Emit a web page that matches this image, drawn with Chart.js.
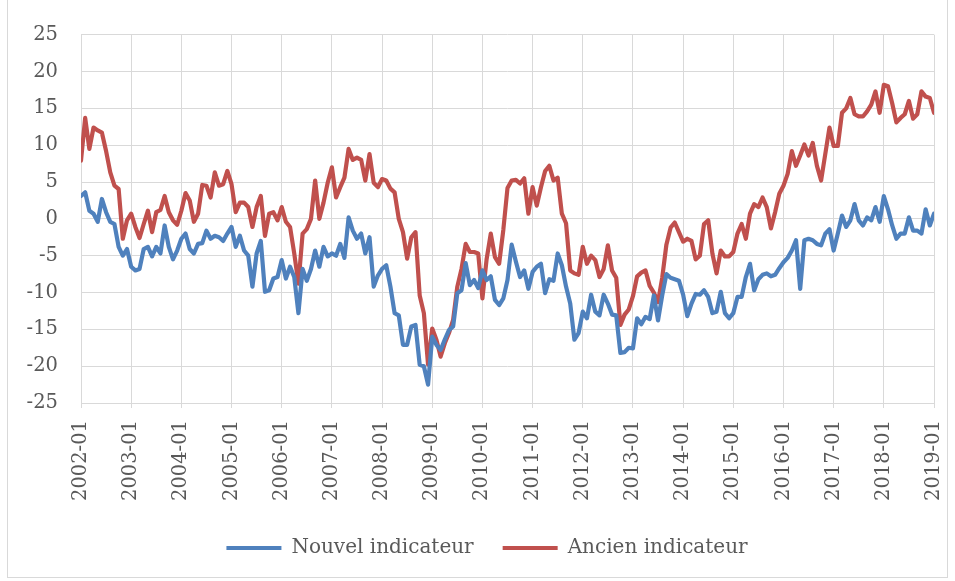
<!DOCTYPE html>
<html>
<head>
<meta charset="utf-8">
<script src="https://cdn.jsdelivr.net/npm/chart.js@4.4.1/dist/chart.umd.min.js"></script>
<style>
html,body{margin:0;padding:0;background:#fff;overflow:hidden;}
#wrap{position:relative;width:955px;height:581px;overflow:hidden;}
#frame{position:absolute;left:7px;top:-2px;width:941px;height:580px;border:1px solid #d9d9d9;box-sizing:border-box;pointer-events:none;}
canvas{position:absolute;left:0;top:0;}
</style>
</head>
<body>
<div id="wrap"><canvas id="c" width="955" height="581"></canvas><div id="frame"></div></div>
<script>
// Categories: monthly, 2002-01 .. 2019-01
const startYear = 2002, endYear = 2019;
const months = [];
for (let y = startYear; y <= endYear; y++) {
  for (let m = 1; m <= 12; m++) {
    if (y === endYear && m > 1) break;
    months.push(y + '-' + String(m).padStart(2, '0'));
  }
}

const seriesNames = ['Nouvel indicateur', 'Ancien indicateur'];

const nouvelIndicateur = [
  3.1, 3.6, 1.1, 0.7, -0.4, 2.7, 0.9, -0.4, -0.7, -3.8, -5.0, -4.1,
  -6.5, -7.0, -6.8, -4.1, -3.8, -5.1, -3.8, -4.7, -0.9, -3.8, -5.5, -4.3,
  -2.7, -2.0, -4.1, -4.7, -3.4, -3.3, -1.6, -2.7, -2.3, -2.5, -3.0, -2.0,
  -1.1, -3.8, -2.3, -4.3, -5.0, -9.2, -4.7, -3.0, -9.9, -9.7, -8.1, -7.9,
  -5.6, -8.1, -6.5, -7.9, -12.8, -6.8, -8.4, -6.8, -4.3, -6.5, -3.8, -5.1,
  -4.7, -5.0, -3.4, -5.3, 0.2, -1.6, -2.7, -2.0, -4.7, -2.5, -9.2, -7.7,
  -6.8, -6.3, -9.2, -12.8, -13.1, -17.1, -17.1, -14.6, -14.4, -19.8, -20.0, -22.5,
  -16.0, -17.1, -17.8, -16.4, -15.1, -14.6, -10.1, -9.7, -6.0, -9.0, -8.3, -9.4,
  -7.0, -8.3, -7.8, -11.0, -11.7, -10.8, -8.3, -3.5, -5.8, -7.9, -7.0, -9.5,
  -7.2, -6.5, -6.1, -10.1, -8.2, -8.4, -4.7, -6.3, -9.2, -11.5, -16.4, -15.5,
  -12.6, -13.5, -10.3, -12.6, -13.1, -10.3, -11.5, -13.0, -13.1, -18.2, -18.1, -17.5,
  -17.6, -13.5, -14.3, -13.3, -13.6, -10.4, -13.8, -10.4, -7.5, -8.0, -8.2, -8.4,
  -10.3, -13.2, -11.5, -10.2, -10.3, -9.7, -10.6, -12.8, -12.6, -9.9, -12.8, -13.5,
  -12.8, -10.6, -10.6, -7.9, -6.1, -9.7, -8.2, -7.6, -7.4, -7.8, -7.6, -6.7,
  -5.9, -5.3, -4.3, -2.9, -9.5, -2.9, -2.7, -2.9, -3.4, -3.6, -2.0, -1.4,
  -4.3, -2.0, 0.45, -1.1, -0.2, 2.0, -0.2, -0.9, 0.2, -0.2, 1.6, -0.4,
  3.1, 1.3, -0.9, -2.7, -2.0, -2.0, 0.2, -1.6, -1.6, -2.0, 1.3, -0.9,
  0.7
];

const ancienIndicateur = [
  7.9, 13.7, 9.5, 12.4, 12.0, 11.7, 9.2, 6.3, 4.5, 4.05, -2.7, -0.2,
  0.7, -1.1, -2.6, -0.7, 1.1, -1.8, 0.9, 1.2, 3.1, 0.9, -0.2, -0.8,
  1.1, 3.5, 2.5, -0.4, 0.7, 4.6, 4.5, 2.9, 6.3, 4.5, 4.7, 6.5,
  4.7, 0.9, 2.2, 2.2, 1.6, -1.1, 1.6, 3.1, -2.3, 0.7, 0.9, -0.2,
  1.6, -0.4, -1.1, -4.7, -8.8, -2.0, -1.4, 0.0, 5.2, 0.0, 2.2, 4.9,
  7.0, 2.9, 4.3, 5.6, 9.5, 8.0, 8.3, 8.0, 5.2, 8.8, 4.9, 4.3,
  5.4, 5.2, 4.1, 3.6, 0.0, -1.8, -5.4, -2.5, -1.8, -10.4, -12.8, -19.8,
  -14.9, -16.4, -18.7, -16.9, -15.5, -13.7, -9.2, -6.8, -3.4, -4.5, -4.5, -4.7,
  -10.8, -5.5, -2.0, -5.2, -6.1, -1.5, 4.2, 5.2, 5.3, 4.8, 5.5, 0.7,
  4.3, 1.8, 4.3, 6.5, 7.2, 5.2, 5.6, 0.7, -0.6, -7.0, -7.4, -7.6,
  -3.8, -6.1, -5.0, -5.6, -7.9, -6.8, -3.6, -7.0, -8.0, -14.4, -13.0, -12.3,
  -10.5, -7.8, -7.3, -7.0, -9.1, -10.0, -11.3, -8.0, -3.5, -1.2, -0.5, -1.8,
  -3.1, -2.7, -3.0, -5.5, -5.0, -0.7, -0.2, -4.7, -7.4, -4.3, -5.1, -5.1,
  -4.5, -2.0, -0.7, -2.7, 0.7, 2.0, 1.6, 2.9, 1.6, -1.3, 0.9, 3.4,
  4.5, 6.1, 9.2, 7.2, 8.6, 10.1, 8.6, 10.3, 7.2, 5.2, 8.8, 12.4,
  9.9, 9.9, 14.4, 15.0, 16.4, 14.2, 13.9, 13.9, 14.6, 15.5, 17.3, 14.4,
  18.2, 18.0, 15.7, 13.1, 13.7, 14.2, 16.0, 13.6, 14.2, 17.3, 16.6, 16.4,
  14.4
];

const yMin = -25, yMax = 25, yStep = 5;
const xStep = 12; // one tick per year (January)

const FONT = {family: "'DejaVu Serif', serif", size: 19.5};
const LEGEND_FONT = {family: "'DejaVu Serif', serif", size: 20};
const TEXT = '#595959';
const GRID = '#D9D9D9';

const toPoints = (arr) => arr.map((v, i) => ({x: i, y: v}));

const legendShift = {
  id: 'legendShift',
  afterLayout(chart) {
    const l = chart.legend;
    if (l) { l.left += 20; l.right += 20; if (l.adjustHitBoxes) l.adjustHitBoxes(); }
  }
};

new Chart(document.getElementById('c'), {
  type: 'line',
  data: {
    datasets: [
      {label: seriesNames[0], data: toPoints(nouvelIndicateur), borderColor: '#4F81BD', backgroundColor: '#4F81BD',
       borderWidth: 4.2, pointRadius: 0, tension: 0, borderJoinStyle: 'round', borderCapStyle: 'round'},
      {label: seriesNames[1], data: toPoints(ancienIndicateur), borderColor: '#C0504D', backgroundColor: '#C0504D',
       borderWidth: 4.2, pointRadius: 0, tension: 0, borderJoinStyle: 'round', borderCapStyle: 'round'}
    ]
  },
  plugins: [legendShift],
  options: {
    responsive: false, animation: false, devicePixelRatio: 1,
    layout: {padding: {left: 0, right: 21, top: 22, bottom: 13}},
    plugins: {
      legend: {
        position: 'bottom',
        labels: {usePointStyle: true, pointStyle: 'line', pointStyleWidth: 55, font: LEGEND_FONT, color: TEXT, padding: 29}
      },
      tooltip: {enabled: false}
    },
    scales: {
      x: {
        type: 'linear',
        min: 0, max: months.length - 1,
        grid: {color: GRID, lineWidth: 1, tickLength: 5},
        border: {color: GRID},
        ticks: {stepSize: xStep, autoSkip: false, maxRotation: 90, minRotation: 90, padding: 12, color: TEXT, font: FONT,
                callback: (v) => months[v]},
        afterFit: (s) => { s.height = 106; s.paddingLeft = 0; s.paddingRight = 0; }
      },
      y: {
        min: yMin, max: yMax,
        grid: {color: GRID, drawTicks: false},
        border: {display: false},
        ticks: {stepSize: yStep, padding: 23, color: TEXT, font: FONT},
        afterFit: (s) => { s.width = 81; }
      }
    }
  }
});
</script>
</body>
</html>
